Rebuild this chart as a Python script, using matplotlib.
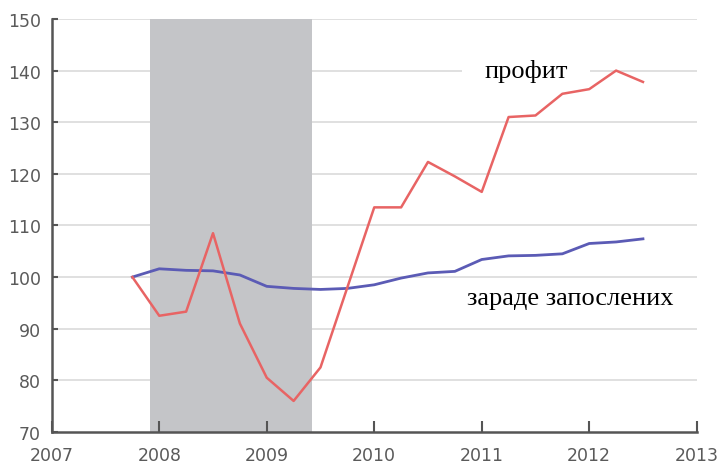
import numpy as np
import matplotlib.pyplot as plt

# quarterly index, Q4 2007 = 100
quarters = [2007.75, 2008.0, 2008.25, 2008.5, 2008.75, 2009.0, 2009.25, 2009.5,
            2009.75, 2010.0, 2010.25, 2010.5, 2010.75, 2011.0, 2011.25, 2011.5,
            2011.75, 2012.0, 2012.25, 2012.5]
profit = [100, 92.5, 93.3, 108.5, 91, 80.5, 76, 82.5,
          98, 113.5, 113.5, 122.3, 119.5, 116.5, 131, 131.3,
          135.5, 136.4, 140, 137.8]
wages = [100, 101.6, 101.3, 101.2, 100.4, 98.2, 97.8, 97.6,
         97.8, 98.5, 99.8, 100.8, 101.1, 103.4, 104.1, 104.2,
         104.5, 106.5, 106.8, 107.4]
recession = (2007.917, 2009.42)
years = [2007, 2008, 2009, 2010, 2011, 2012, 2013]
yticks = [70, 80, 90, 100, 110, 120, 130, 140, 150]

fig = plt.figure(figsize=(7.19, 4.64), dpi=100)
ax = fig.add_axes([0.072, 0.067, 0.897, 0.89])

ax.axvspan(recession[0], recession[1], color='#c4c5c8', zorder=1, lw=0)
for v in yticks[1:]:
    ax.axhline(v, color='#dadada', lw=1.2, zorder=0.5)

ax.plot(quarters, wages, color='#5b5bb5', lw=2, zorder=3)
ax.plot(quarters, profit, color='#e86464', lw=1.8, zorder=3)

ax.set_xlim(2007, 2013)
ax.set_ylim(70, 150)
ax.set_xticks(years)
ax.set_yticks(yticks)
ax.tick_params(axis='x', direction='in', length=8, width=1.5, color='#555555',
               labelsize=12.5, labelcolor='#5a5a5a', pad=10)
ax.tick_params(axis='y', direction='in', length=4, width=1.5, color='#555555',
               labelsize=12.5, labelcolor='#5a5a5a', pad=8)
for s in ['top', 'right']:
    ax.spines[s].set_visible(False)
for s in ['left', 'bottom']:
    ax.spines[s].set_color('#555555')
    ax.spines[s].set_linewidth(1.8)

ax.text(2011.41, 140, 'профит', family='Liberation Serif', fontsize=19,
        ha='center', va='center', zorder=2,
        bbox=dict(facecolor='white', edgecolor='none', pad=16))
ax.text(2011.82, 96, 'зараде запослених', family='Liberation Serif', fontsize=19,
        ha='center', va='center', zorder=2)

fig.savefig('out.png', dpi=100)
